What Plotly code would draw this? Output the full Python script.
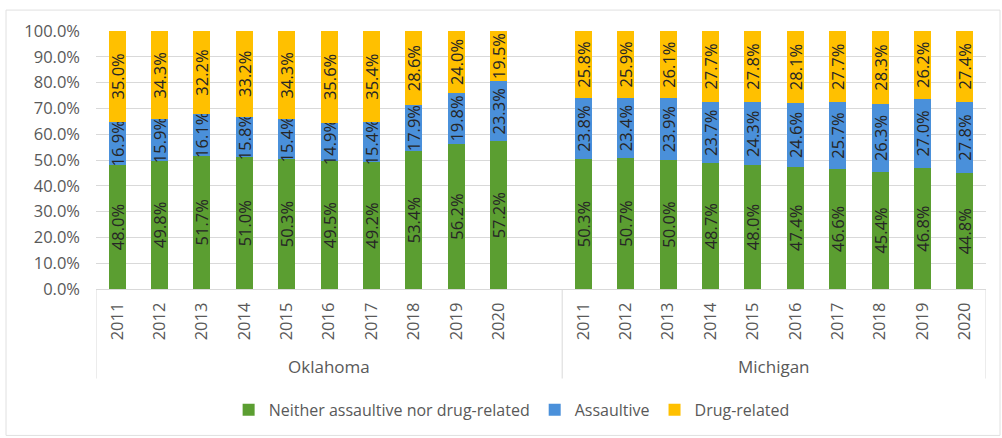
import plotly.graph_objects as go

years = ["2011", "2012", "2013", "2014", "2015", "2016", "2017", "2018", "2019", "2020"]
states = ["Oklahoma", "Michigan"]

ok_neither = [48.0, 49.8, 51.7, 51.0, 50.3, 49.5, 49.2, 53.4, 56.2, 57.2]
ok_assault = [16.9, 15.9, 16.1, 15.8, 15.4, 14.9, 15.4, 17.9, 19.8, 23.3]
ok_drug = [35.0, 34.3, 32.2, 33.2, 34.3, 35.6, 35.4, 28.6, 24.0, 19.5]

mi_neither = [50.3, 50.7, 50.0, 48.7, 48.0, 47.4, 46.6, 45.4, 46.8, 44.8]
mi_assault = [23.8, 23.4, 23.9, 23.7, 24.3, 24.6, 25.7, 26.3, 27.0, 27.8]
mi_drug = [25.8, 25.9, 26.1, 27.7, 27.8, 28.1, 27.7, 28.3, 26.2, 27.4]

series_names = ["Neither assaultive nor drug-related", "Assaultive", "Drug-related"]
colors = ["#5B9E31", "#4A90DA", "#FFC000"]

# positions: Oklahoma slots 0-9, blank slot 10, Michigan slots 11-20
n = len(years)
ok_x = list(range(n))
mi_x = [n + 1 + i for i in range(n)]
xs = ok_x + mi_x
ticktext = years + years

series = [ok_neither + mi_neither, ok_assault + mi_assault, ok_drug + mi_drug]

font_family = "Open Sans, Noto Sans, sans-serif"
fig = go.Figure()
for name, vals, col in zip(series_names, series, colors):
    fig.add_trace(go.Bar(
        x=xs, y=vals, name=name, marker_color=col, marker_line_width=0,
        texttemplate="%{y:.1f}%", textposition="inside", textangle=-90,
        insidetextanchor="middle", constraintext="none",
        textfont=dict(color="#262626", size=16.5, family=font_family),
        hoverinfo="skip",
    ))

grid = "#d9d9d9"
fig.update_layout(
    barmode="stack", bargap=0.6,
    width=1002, height=438,
    margin=dict(l=96, r=16, t=31, b=148),
    paper_bgcolor="white", plot_bgcolor="white",
    font=dict(family=font_family, color="#595959", size=16),
    uniformtext=dict(minsize=16.5, mode="show"),
    showlegend=True,
    legend=dict(orientation="h", x=0.467, xanchor="center", y=-0.463, yanchor="middle",
                font=dict(size=16, color="#595959"), traceorder="normal", itemwidth=30),
    xaxis=dict(range=[-0.5, 2 * n + 0.5], tickmode="array", tickvals=xs, ticktext=ticktext,
               tickangle=-90, showgrid=False, showline=True, linecolor=grid, ticks="",
               tickfont=dict(size=16.5, color="#595959"), zeroline=False,
               ticklabelstandoff=6),
    yaxis=dict(range=[0, 100], tickmode="array", tickvals=list(range(0, 101, 10)),
               ticktext=[f"{v:.1f}%" for v in range(0, 101, 10)],
               showgrid=True, gridcolor=grid, gridwidth=1, zeroline=False, showline=False,
               tickfont=dict(size=16.5, color="#595959"), ticks="", ticklabelstandoff=15),
)

# group dividers and labels
for xv in [-0.5, n + 0.5, 2 * n + 0.5]:
    fig.add_shape(type="line", xref="x", yref="paper", x0=xv, x1=xv, y0=0, y1=-0.347,
                  line=dict(color=grid, width=1))
group_centers = [(-0.5 + n + 0.5) / 2, (n + 0.5 + 2 * n + 0.5) / 2]
for st, cx in zip(states, group_centers):
    fig.add_annotation(x=cx, xref="x", y=-0.301, yref="paper", text=st, showarrow=False,
                       font=dict(size=17, color="#595959"), yanchor="middle")

# outer chart border
fig.add_shape(type="rect", xref="paper", yref="paper",
              x0=-90 / 890, x1=1000 / 890 - 96 / 890, y0=-147 / 259, y1=1 + 21 / 259,
              line=dict(color="#e0e0e0", width=1), layer="below")

fig.write_html("out.html")
